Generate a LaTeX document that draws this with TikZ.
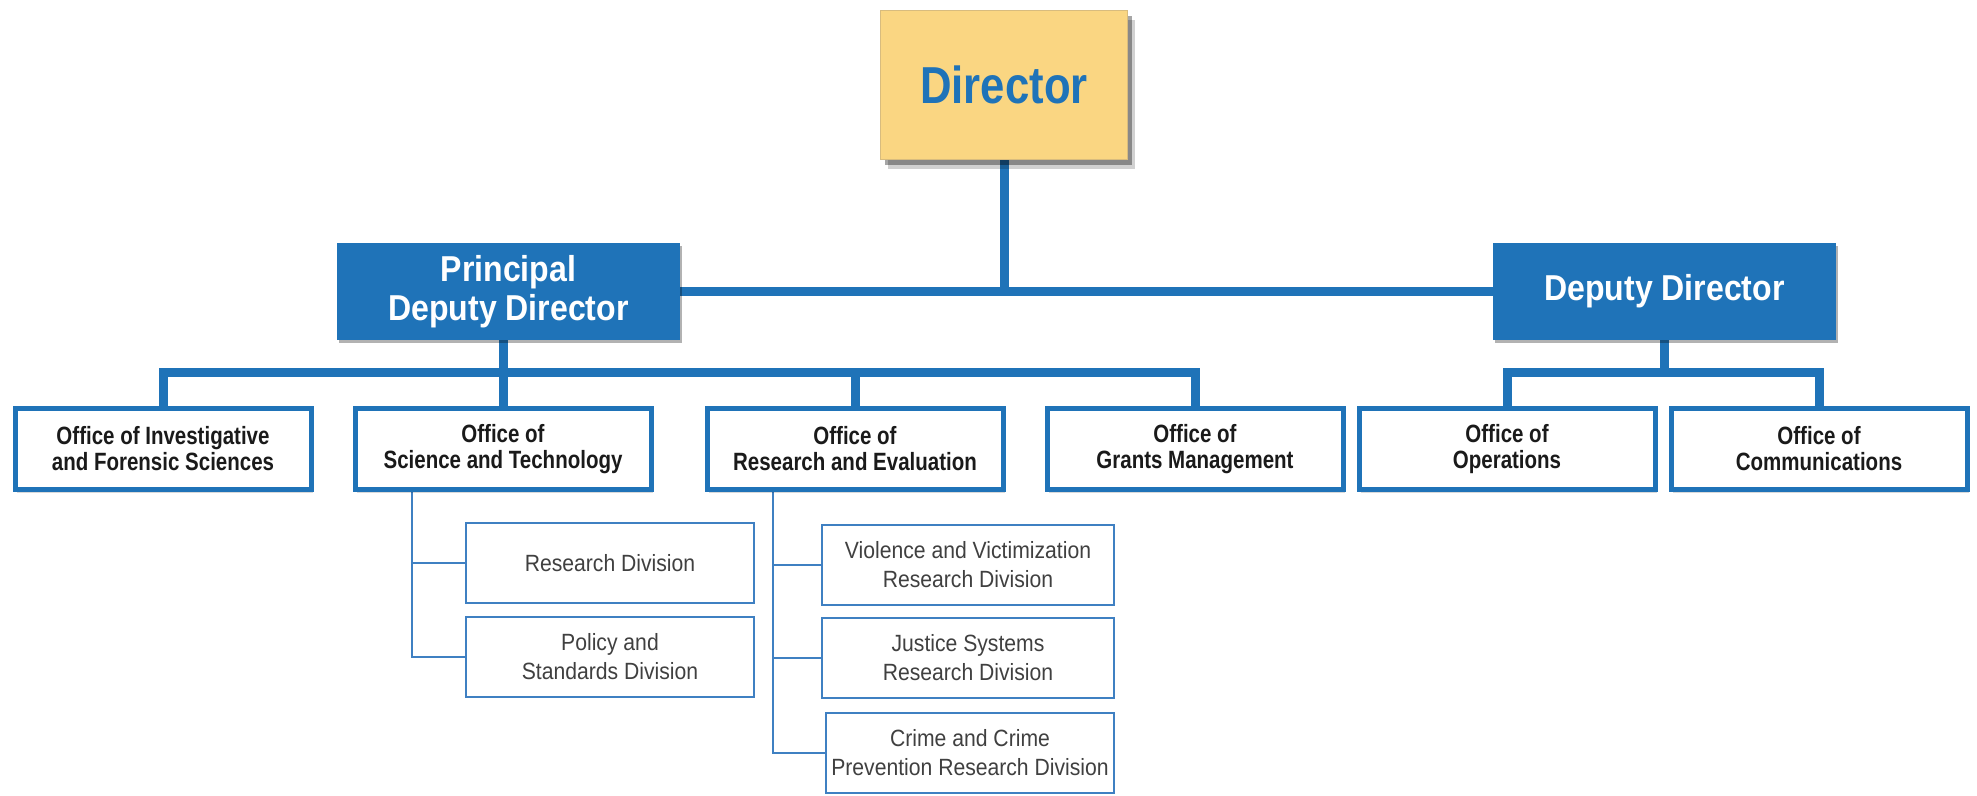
\documentclass[tikz,border=0pt]{standalone}
\usepackage{fontspec}
\setmainfont{Liberation Sans}
\newfontfamily\fdir[FakeStretch=0.84]{Liberation Sans}
\newfontfamily\fhead[FakeStretch=0.89]{Liberation Sans}
\newfontfamily\foff[FakeStretch=0.82]{Liberation Sans}
\newfontfamily\fsub[FakeStretch=0.9]{Liberation Sans}
\usetikzlibrary{shadows,backgrounds}
\definecolor{nblue}{HTML}{1F73B8}
\definecolor{subblue}{HTML}{3F80C2}
\definecolor{gold}{HTML}{FAD682}
\definecolor{goldedge}{HTML}{D8BC7E}
\definecolor{offtext}{HTML}{1A1A1A}
\definecolor{subtext}{HTML}{404040}
\begin{document}
\begin{tikzpicture}[x=1pt,y=-1pt,
  conn/.style={draw=nblue,line width=9pt,line join=miter},
  thinconn/.style={draw=subblue,line width=2.5pt,line join=miter},
  dirbox/.style={draw=goldedge,line width=1pt,fill=gold,text=nblue,
    minimum width=247pt,minimum height=149pt,inner sep=0pt,
    font=\fdir\bfseries\fontsize{52}{56}\selectfont,
    drop shadow={shadow xshift=4pt,shadow yshift=-5pt,opacity=.35,fill=black},
    drop shadow={shadow xshift=7pt,shadow yshift=-9pt,opacity=.18,fill=black}},
  headbox/.style={fill=nblue,text=white,
    minimum width=343pt,minimum height=97pt,inner sep=0pt,align=center,
    font=\fhead\bfseries\fontsize{36}{39}\selectfont,
    drop shadow={shadow xshift=2pt,shadow yshift=-3pt,opacity=.3,fill=black}},
  offbox/.style={draw=nblue,line width=5pt,fill=white,text=offtext,
    minimum width=296pt,minimum height=81pt,inner sep=0pt,align=center,
    font=\foff\bfseries\fontsize{25}{26}\selectfont,
    drop shadow={shadow xshift=2pt,shadow yshift=-3pt,opacity=.15,fill=black}},
  subbox/.style={draw=subblue,line width=2.5pt,fill=white,text=subtext,
    minimum width=288pt,minimum height=80pt,inner sep=0pt,align=center,
    font=\fsub\fontsize{23.5}{29}\selectfont}
]
\useasboundingbox (0,0) rectangle (1977,795);

\node[dirbox] (director) at (1004,85) {Director};
\node[headbox] (pdd) at (508.5,291.5) {Principal\\Deputy Director};
\node[headbox] (dd) at (1664.5,291.5) {Deputy Director};

\node[offbox] (inv) at (163,449) {Office of Investigative\\and Forensic Sciences};
\node[offbox] (sci) at (503,449) {Office of\\Science and Technology};
\node[offbox] (rne) at (855,449) {Office of\\Research and Evaluation};
\node[offbox] (grants) at (1195,449) {Office of\\Grants Management};
\node[offbox] (ops) at (1507,449) {Office of\\Operations};
\node[offbox] (comm) at (1819,449) {Office of\\Communications};

\node[subbox] (resdiv) at (610,563) {Research Division};
\node[subbox] (policy) at (610,657) {Policy and\\Standards Division};
\node[subbox,minimum width=292pt] (viol) at (968,565) {Violence and Victimization\\Research Division};
\node[subbox,minimum width=292pt] (just) at (968,658) {Justice Systems\\Research Division};
\node[subbox] (crime) at (970,753) {Crime and Crime\\Prevention Research Division};

\coordinate (pbus) at (503,372);
\coordinate (dbus) at (1664,372);
\coordinate (sspine) at (412,0);
\coordinate (rspine) at (773,0);

\begin{pgfonlayer}{background}
\fill[white] (0,0) rectangle (1977,795);
\draw[conn] (director.south) -- (director.south |- pdd.east);
\draw[conn] (pdd.east) -- (dd.west);
\draw[conn] (sci.north |- pdd.south) -- (sci.north);
\draw[conn] (inv.north) -- (inv.north |- pbus) -- (grants.north |- pbus) -- (grants.north);
\draw[conn] (rne.north |- pbus) -- (rne.north);
\draw[conn] (dd.south) -- (dd.south |- dbus);
\draw[conn] (ops.north) -- (ops.north |- dbus) -- (comm.north |- dbus) -- (comm.north);

\draw[thinconn] (sci.south -| sspine) -- (policy.west -| sspine) -- (policy.west);
\draw[thinconn] (resdiv.west -| sspine) -- (resdiv.west);
\draw[thinconn] (rne.south -| rspine) -- (crime.west -| rspine) -- (crime.west);
\draw[thinconn] (viol.west -| rspine) -- (viol.west);
\draw[thinconn] (just.west -| rspine) -- (just.west);
\end{pgfonlayer}
\end{tikzpicture}
\end{document}
